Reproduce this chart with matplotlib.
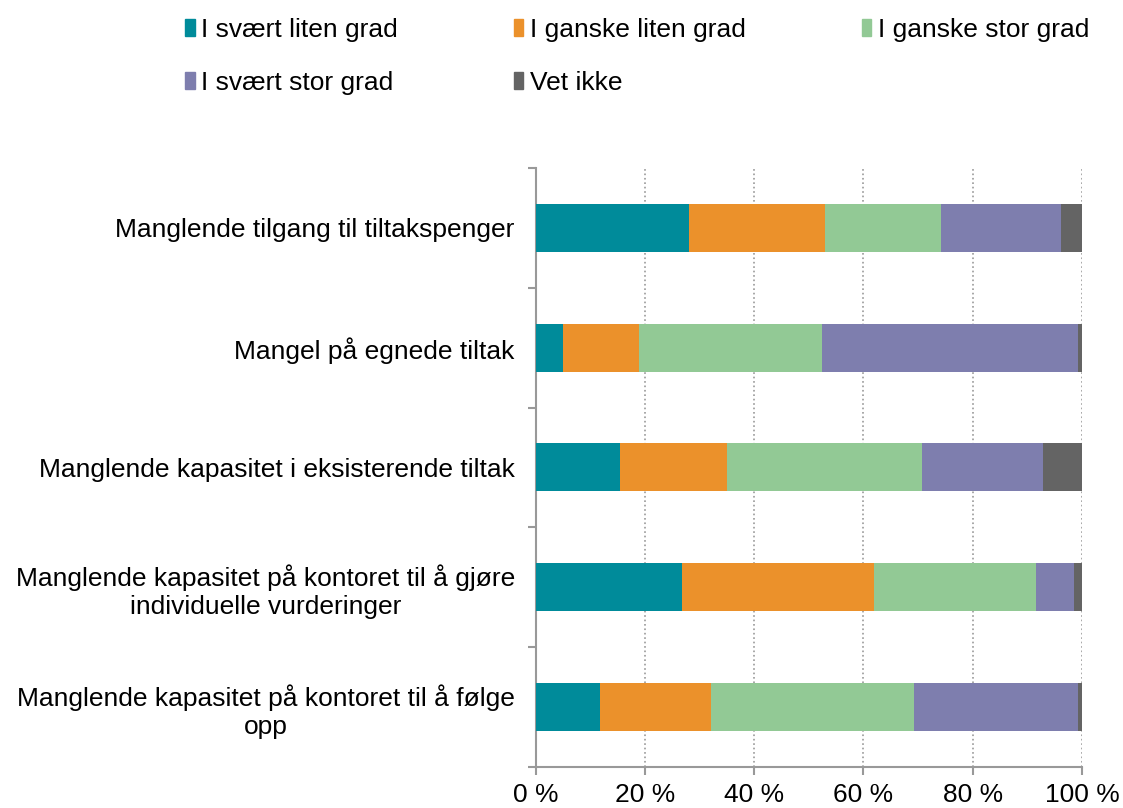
import matplotlib.pyplot as plt
import numpy as np
from matplotlib.patches import Patch

plt.rcParams['font.family'] = ['Liberation Sans', 'DejaVu Sans']

# Data (percent)
categories = [
    'Manglende tilgang til tiltakspenger',
    'Mangel på egnede tiltak',
    'Manglende kapasitet i eksisterende tiltak',
    'Manglende kapasitet på kontoret til å gjøre\nindividuelle vurderinger',
    'Manglende kapasitet på kontoret til å følge\nopp',
]
series_names = ['I svært liten grad', 'I ganske liten grad', 'I ganske stor grad',
                'I svært stor grad', 'Vet ikke']
svaert_liten = [28.1, 5.0, 15.5, 26.7, 11.8]
ganske_liten = [24.9, 14.0, 19.6, 35.2, 20.3]
ganske_stor = [21.1, 33.4, 35.6, 29.6, 37.1]
svaert_stor = [22.1, 46.8, 22.2, 7.1, 30.0]
vet_ikke = [3.8, 0.8, 7.1, 1.4, 0.8]
colors = ['#008B9A', '#EB912B', '#92C995', '#7E7EAE', '#646464']

series = [svaert_liten, ganske_liten, ganske_stor, svaert_stor, vet_ikke]

fig = plt.figure(figsize=(11.23, 8.08), dpi=100)
ax = fig.add_axes([0.477, 0.051, 0.4865, 0.741])

y = np.arange(len(categories))
left = np.zeros(len(categories))
for name, vals, c in zip(series_names, series, colors):
    ax.barh(y, vals, left=left, height=0.4, color=c, label=name, zorder=3)
    left += np.array(vals)

ax.set_xlim(0, 100)
ax.set_ylim(len(categories) - 0.5, -0.5)
ax.set_xticks(np.arange(0, 101, 20))
ax.set_xticklabels([f'{v} %' for v in range(0, 101, 20)], fontsize=19)
ax.set_yticks(y)
ax.set_yticklabels(categories, fontsize=19)
for lab in ax.get_yticklabels():
    lab.set_multialignment('center')
ax.tick_params(axis='y', length=0, pad=15)
ax.set_yticks(np.arange(-0.5, len(categories), 1), minor=True)
ax.tick_params(axis='y', which='minor', length=6, color='#999999', width=1.5)
ax.tick_params(axis='x', length=6, color='#999999', width=1.5, pad=6)

ax.xaxis.grid(True, linestyle=':', color='#999999', linewidth=1.2, zorder=0)
for s in ['top', 'right']:
    ax.spines[s].set_visible(False)
for s in ['left', 'bottom']:
    ax.spines[s].set_color('#999999')
    ax.spines[s].set_linewidth(1.5)

handles = [Patch(color=c) for c in colors]
order = [0, 3, 1, 4, 2]
fig.legend([handles[i] for i in order], [series_names[i] for i in order],
           ncol=3, loc='upper left', bbox_to_anchor=(0.165, 0.978),
           frameon=False, fontsize=19, handlelength=0.35, handleheight=0.65,
           handletextpad=0.25, columnspacing=4.4, labelspacing=1.1,
           borderpad=0, borderaxespad=0)

fig.savefig('out.png', dpi=100)
